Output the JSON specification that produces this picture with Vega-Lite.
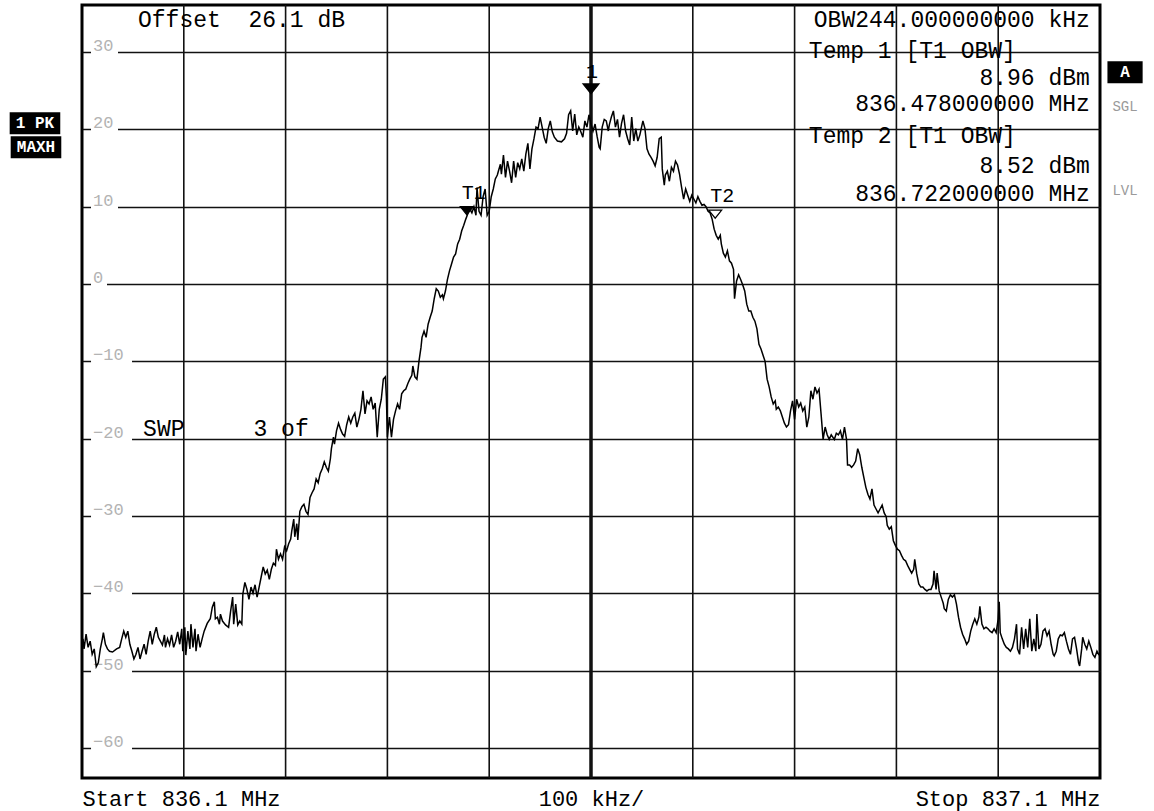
{
  "$schema": "https://vega.github.io/schema/vega-lite/v6.json",
  "width": 1018,
  "height": 773,
  "autosize": {"type": "none"},
  "padding": {"left": 82, "right": 54, "top": 5, "bottom": 33},
  "background": "white",
  "config": {
    "font": "Liberation Mono",
    "view": {"stroke": "black", "strokeWidth": 3}
  },
  "datasets": {
    "trace": [
      {"f":836.101,"v":-45.9},{"f":836.102,"v":-47.2},{"f":836.104,"v":-45.3},{"f":836.106,"v":-47.0},{"f":836.108,"v":-46.2},{"f":836.110,"v":-47.9},{"f":836.112,"v":-47.2},{"f":836.114,"v":-49.5},{"f":836.116,"v":-49.0},{"f":836.118,"v":-47.2},
      {"f":836.120,"v":-45.9},{"f":836.121,"v":-45.1},{"f":836.123,"v":-46.6},{"f":836.125,"v":-47.2},{"f":836.127,"v":-47.5},{"f":836.130,"v":-47.6},{"f":836.134,"v":-47.2},{"f":836.137,"v":-47.0},{"f":836.139,"v":-45.9},{"f":836.141,"v":-44.9},
      {"f":836.143,"v":-45.7},{"f":836.145,"v":-44.9},{"f":836.147,"v":-46.6},{"f":836.149,"v":-47.5},{"f":836.151,"v":-48.5},{"f":836.153,"v":-47.9},{"f":836.155,"v":-47.0},{"f":836.157,"v":-48.5},{"f":836.159,"v":-47.5},{"f":836.161,"v":-46.6},
      {"f":836.163,"v":-47.9},{"f":836.165,"v":-46.2},{"f":836.167,"v":-44.9},{"f":836.169,"v":-46.6},{"f":836.171,"v":-45.3},{"f":836.173,"v":-44.4},{"f":836.175,"v":-45.7},{"f":836.177,"v":-46.2},{"f":836.179,"v":-46.7},{"f":836.181,"v":-45.4},
      {"f":836.182,"v":-47.0},{"f":836.184,"v":-45.9},{"f":836.186,"v":-46.7},{"f":836.188,"v":-45.4},{"f":836.190,"v":-47.0},{"f":836.192,"v":-46.2},{"f":836.194,"v":-45.0},{"f":836.196,"v":-46.6},{"f":836.198,"v":-44.6},{"f":836.199,"v":-47.5},
      {"f":836.201,"v":-44.4},{"f":836.202,"v":-48.0},{"f":836.204,"v":-44.9},{"f":836.206,"v":-47.2},{"f":836.207,"v":-44.0},{"f":836.209,"v":-47.0},{"f":836.211,"v":-44.6},{"f":836.212,"v":-47.5},{"f":836.214,"v":-45.3},{"f":836.216,"v":-47.0},
      {"f":836.218,"v":-45.9},{"f":836.220,"v":-44.9},{"f":836.223,"v":-43.9},{"f":836.226,"v":-43.3},{"f":836.228,"v":-41.8},{"f":836.230,"v":-41.1},{"f":836.231,"v":-43.3},{"f":836.233,"v":-43.1},{"f":836.235,"v":-44.0},{"f":836.236,"v":-42.7},
      {"f":836.238,"v":-43.6},{"f":836.241,"v":-44.1},{"f":836.244,"v":-44.4},{"f":836.246,"v":-42.3},{"f":836.248,"v":-40.5},{"f":836.249,"v":-44.0},{"f":836.251,"v":-41.4},{"f":836.253,"v":-44.1},{"f":836.255,"v":-43.6},{"f":836.257,"v":-44.0},
      {"f":836.258,"v":-40.1},{"f":836.260,"v":-38.6},{"f":836.262,"v":-39.5},{"f":836.264,"v":-40.8},{"f":836.266,"v":-39.2},{"f":836.268,"v":-40.0},{"f":836.270,"v":-38.9},{"f":836.272,"v":-40.5},{"f":836.274,"v":-39.2},{"f":836.276,"v":-37.9},
      {"f":836.278,"v":-36.6},{"f":836.280,"v":-37.5},{"f":836.282,"v":-37.0},{"f":836.284,"v":-38.2},{"f":836.286,"v":-36.9},{"f":836.288,"v":-36.1},{"f":836.290,"v":-36.4},{"f":836.291,"v":-34.3},{"f":836.293,"v":-35.6},{"f":836.295,"v":-34.9},
      {"f":836.297,"v":-35.6},{"f":836.299,"v":-34.0},{"f":836.301,"v":-34.5},{"f":836.303,"v":-33.6},{"f":836.305,"v":-33.0},{"f":836.306,"v":-32.0},{"f":836.308,"v":-30.4},{"f":836.309,"v":-32.7},{"f":836.311,"v":-31.0},{"f":836.312,"v":-33.1},
      {"f":836.314,"v":-29.4},{"f":836.316,"v":-28.8},{"f":836.318,"v":-28.5},{"f":836.320,"v":-29.4},{"f":836.322,"v":-29.8},{"f":836.324,"v":-27.6},{"f":836.326,"v":-27.0},{"f":836.328,"v":-26.5},{"f":836.330,"v":-25.2},{"f":836.332,"v":-25.7},
      {"f":836.334,"v":-24.5},{"f":836.336,"v":-23.9},{"f":836.338,"v":-23.0},{"f":836.340,"v":-23.7},{"f":836.342,"v":-24.2},{"f":836.344,"v":-22.6},{"f":836.345,"v":-21.3},{"f":836.347,"v":-19.8},{"f":836.348,"v":-20.7},{"f":836.350,"v":-19.0},
      {"f":836.352,"v":-18.0},{"f":836.354,"v":-18.8},{"f":836.356,"v":-19.4},{"f":836.358,"v":-19.7},{"f":836.360,"v":-18.2},{"f":836.362,"v":-17.2},{"f":836.364,"v":-18.0},{"f":836.366,"v":-17.2},{"f":836.368,"v":-16.7},{"f":836.370,"v":-18.5},
      {"f":836.372,"v":-17.5},{"f":836.374,"v":-16.2},{"f":836.376,"v":-13.8},{"f":836.378,"v":-16.8},{"f":836.380,"v":-15.1},{"f":836.382,"v":-15.5},{"f":836.384,"v":-14.6},{"f":836.386,"v":-16.2},{"f":836.388,"v":-15.4},{"f":836.390,"v":-19.8},
      {"f":836.392,"v":-16.2},{"f":836.394,"v":-14.9},{"f":836.396,"v":-12.3},{"f":836.398,"v":-12.0},{"f":836.399,"v":-14.6},{"f":836.400,"v":-19.8},{"f":836.402,"v":-17.2},{"f":836.404,"v":-19.8},{"f":836.406,"v":-17.5},{"f":836.408,"v":-16.4},
      {"f":836.410,"v":-15.5},{"f":836.412,"v":-16.2},{"f":836.414,"v":-14.2},{"f":836.416,"v":-13.8},{"f":836.418,"v":-13.6},{"f":836.420,"v":-12.9},{"f":836.422,"v":-12.3},{"f":836.424,"v":-11.8},{"f":836.425,"v":-10.6},{"f":836.427,"v":-12.0},
      {"f":836.429,"v":-12.3},{"f":836.431,"v":-10.0},{"f":836.433,"v":-8.2},{"f":836.434,"v":-6.9},{"f":836.436,"v":-6.1},{"f":836.438,"v":-6.9},{"f":836.440,"v":-5.2},{"f":836.442,"v":-4.3},{"f":836.444,"v":-3.5},{"f":836.446,"v":-1.9},
      {"f":836.448,"v":-0.6},{"f":836.450,"v":-0.9},{"f":836.452,"v":-1.7},{"f":836.454,"v":-1.4},{"f":836.455,"v":-1.9},{"f":836.457,"v":-0.9},{"f":836.459,"v":0.6},{"f":836.461,"v":1.7},{"f":836.463,"v":2.6},{"f":836.465,"v":3.5},
      {"f":836.467,"v":3.9},{"f":836.469,"v":5.2},{"f":836.471,"v":5.8},{"f":836.473,"v":6.9},{"f":836.475,"v":7.6},{"f":836.477,"v":8.4},{"f":836.479,"v":9.1},{"f":836.481,"v":9.7},{"f":836.483,"v":9.2},{"f":836.485,"v":10.0},
      {"f":836.487,"v":8.9},{"f":836.488,"v":12.5},{"f":836.490,"v":9.4},{"f":836.492,"v":8.9},{"f":836.494,"v":11.3},{"f":836.496,"v":12.3},{"f":836.498,"v":8.9},{"f":836.500,"v":9.4},{"f":836.502,"v":11.3},{"f":836.504,"v":12.3},
      {"f":836.506,"v":13.6},{"f":836.508,"v":14.1},{"f":836.509,"v":14.6},{"f":836.511,"v":15.5},{"f":836.512,"v":14.2},{"f":836.514,"v":16.7},{"f":836.516,"v":13.8},{"f":836.518,"v":15.9},{"f":836.520,"v":14.6},{"f":836.522,"v":13.1},
      {"f":836.524,"v":15.9},{"f":836.526,"v":13.8},{"f":836.528,"v":15.7},{"f":836.530,"v":14.9},{"f":836.532,"v":16.2},{"f":836.534,"v":14.6},{"f":836.536,"v":16.8},{"f":836.538,"v":18.2},{"f":836.540,"v":14.9},{"f":836.542,"v":17.5},
      {"f":836.544,"v":18.8},{"f":836.546,"v":20.3},{"f":836.548,"v":20.1},{"f":836.550,"v":21.6},{"f":836.552,"v":20.3},{"f":836.554,"v":19.0},{"f":836.556,"v":18.2},{"f":836.558,"v":20.1},{"f":836.560,"v":21.1},{"f":836.562,"v":19.7},
      {"f":836.564,"v":19.0},{"f":836.567,"v":18.5},{"f":836.571,"v":18.4},{"f":836.574,"v":18.8},{"f":836.576,"v":19.5},{"f":836.578,"v":21.9},{"f":836.580,"v":22.4},{"f":836.582,"v":19.8},{"f":836.584,"v":22.0},{"f":836.586,"v":19.3},
      {"f":836.588,"v":20.3},{"f":836.590,"v":19.7},{"f":836.592,"v":19.0},{"f":836.594,"v":21.1},{"f":836.596,"v":20.3},{"f":836.598,"v":21.9},{"f":836.600,"v":20.7},{"f":836.602,"v":19.8},{"f":836.604,"v":20.7},{"f":836.606,"v":19.1},
      {"f":836.608,"v":17.7},{"f":836.609,"v":17.5},{"f":836.611,"v":20.3},{"f":836.613,"v":21.3},{"f":836.615,"v":21.1},{"f":836.617,"v":19.8},{"f":836.618,"v":20.6},{"f":836.620,"v":21.6},{"f":836.622,"v":22.4},{"f":836.624,"v":20.3},
      {"f":836.626,"v":21.3},{"f":836.628,"v":19.0},{"f":836.630,"v":20.8},{"f":836.632,"v":21.9},{"f":836.634,"v":19.8},{"f":836.636,"v":18.8},{"f":836.638,"v":18.0},{"f":836.640,"v":21.6},{"f":836.642,"v":18.5},{"f":836.644,"v":20.1},
      {"f":836.646,"v":18.5},{"f":836.648,"v":19.3},{"f":836.651,"v":21.1},{"f":836.653,"v":20.1},{"f":836.655,"v":17.5},{"f":836.657,"v":16.8},{"f":836.659,"v":16.4},{"f":836.661,"v":15.9},{"f":836.663,"v":15.3},{"f":836.665,"v":16.4},
      {"f":836.667,"v":18.8},{"f":836.669,"v":19.0},{"f":836.670,"v":14.9},{"f":836.672,"v":12.8},{"f":836.673,"v":14.1},{"f":836.675,"v":14.6},{"f":836.677,"v":13.3},{"f":836.679,"v":15.1},{"f":836.681,"v":14.6},{"f":836.683,"v":15.9},
      {"f":836.685,"v":15.4},{"f":836.687,"v":14.2},{"f":836.689,"v":12.5},{"f":836.691,"v":11.0},{"f":836.693,"v":12.3},{"f":836.695,"v":11.5},{"f":836.697,"v":10.7},{"f":836.699,"v":11.5},{"f":836.701,"v":11.0},{"f":836.703,"v":10.5},
      {"f":836.705,"v":11.3},{"f":836.707,"v":10.7},{"f":836.709,"v":10.2},{"f":836.711,"v":10.3},{"f":836.713,"v":10.0},{"f":836.715,"v":9.4},{"f":836.717,"v":9.2},{"f":836.719,"v":8.4},{"f":836.721,"v":7.1},{"f":836.723,"v":6.3},
      {"f":836.725,"v":5.8},{"f":836.727,"v":6.3},{"f":836.728,"v":5.2},{"f":836.730,"v":4.0},{"f":836.732,"v":3.5},{"f":836.734,"v":4.3},{"f":836.736,"v":3.0},{"f":836.738,"v":2.7},{"f":836.740,"v":1.9},{"f":836.741,"v":-1.9},
      {"f":836.743,"v":0.4},{"f":836.745,"v":1.2},{"f":836.747,"v":0.6},{"f":836.749,"v":-0.1},{"f":836.751,"v":-0.9},{"f":836.753,"v":-2.6},{"f":836.755,"v":-3.5},{"f":836.757,"v":-3.5},{"f":836.759,"v":-4.3},{"f":836.761,"v":-4.8},
      {"f":836.763,"v":-5.8},{"f":836.765,"v":-7.8},{"f":836.767,"v":-8.4},{"f":836.769,"v":-9.2},{"f":836.771,"v":-10.0},{"f":836.773,"v":-12.3},{"f":836.775,"v":-13.3},{"f":836.777,"v":-14.6},{"f":836.779,"v":-15.5},{"f":836.781,"v":-15.1},
      {"f":836.782,"v":-16.2},{"f":836.784,"v":-15.9},{"f":836.786,"v":-16.4},{"f":836.788,"v":-17.2},{"f":836.790,"v":-18.0},{"f":836.792,"v":-18.5},{"f":836.794,"v":-18.2},{"f":836.796,"v":-16.4},{"f":836.798,"v":-15.1},{"f":836.800,"v":-17.5},
      {"f":836.802,"v":-14.9},{"f":836.804,"v":-15.9},{"f":836.806,"v":-15.4},{"f":836.808,"v":-16.4},{"f":836.810,"v":-15.9},{"f":836.812,"v":-18.5},{"f":836.814,"v":-17.2},{"f":836.816,"v":-13.8},{"f":836.818,"v":-14.9},{"f":836.820,"v":-13.3},
      {"f":836.822,"v":-14.1},{"f":836.824,"v":-13.6},{"f":836.826,"v":-16.8},{"f":836.828,"v":-20.1},{"f":836.830,"v":-18.5},{"f":836.832,"v":-19.5},{"f":836.834,"v":-20.1},{"f":836.836,"v":-19.5},{"f":836.837,"v":-19.7},{"f":836.839,"v":-20.1},
      {"f":836.841,"v":-19.3},{"f":836.843,"v":-19.5},{"f":836.845,"v":-19.0},{"f":836.847,"v":-20.1},{"f":836.849,"v":-18.5},{"f":836.851,"v":-20.1},{"f":836.852,"v":-23.4},{"f":836.854,"v":-23.4},{"f":836.856,"v":-23.7},{"f":836.858,"v":-23.4},
      {"f":836.860,"v":-22.9},{"f":836.862,"v":-21.3},{"f":836.864,"v":-22.1},{"f":836.866,"v":-23.7},{"f":836.868,"v":-25.0},{"f":836.870,"v":-26.3},{"f":836.872,"v":-27.2},{"f":836.874,"v":-27.8},{"f":836.876,"v":-26.5},{"f":836.878,"v":-28.6},
      {"f":836.880,"v":-29.1},{"f":836.882,"v":-29.6},{"f":836.884,"v":-29.1},{"f":836.886,"v":-28.6},{"f":836.888,"v":-29.6},{"f":836.890,"v":-30.1},{"f":836.891,"v":-31.2},{"f":836.893,"v":-31.7},{"f":836.895,"v":-31.4},{"f":836.897,"v":-33.2},
      {"f":836.899,"v":-33.8},{"f":836.901,"v":-34.3},{"f":836.903,"v":-34.5},{"f":836.905,"v":-35.1},{"f":836.907,"v":-35.6},{"f":836.909,"v":-35.8},{"f":836.911,"v":-36.4},{"f":836.913,"v":-36.9},{"f":836.915,"v":-37.4},{"f":836.917,"v":-36.9},
      {"f":836.918,"v":-35.6},{"f":836.920,"v":-37.5},{"f":836.922,"v":-38.8},{"f":836.924,"v":-39.2},{"f":836.926,"v":-39.2},{"f":836.928,"v":-39.5},{"f":836.930,"v":-39.7},{"f":836.932,"v":-39.5},{"f":836.934,"v":-39.5},{"f":836.936,"v":-38.8},
      {"f":836.937,"v":-37.1},{"f":836.939,"v":-39.5},{"f":836.940,"v":-37.4},{"f":836.942,"v":-39.7},{"f":836.944,"v":-40.5},{"f":836.946,"v":-41.3},{"f":836.947,"v":-42.0},{"f":836.949,"v":-42.3},{"f":836.951,"v":-40.8},{"f":836.953,"v":-40.2},
      {"f":836.955,"v":-40.5},{"f":836.957,"v":-40.2},{"f":836.959,"v":-41.4},{"f":836.961,"v":-43.1},{"f":836.963,"v":-44.4},{"f":836.965,"v":-45.3},{"f":836.967,"v":-45.9},{"f":836.969,"v":-46.6},{"f":836.971,"v":-46.2},{"f":836.973,"v":-44.9},
      {"f":836.975,"v":-44.0},{"f":836.977,"v":-43.3},{"f":836.979,"v":-44.0},{"f":836.981,"v":-43.1},{"f":836.982,"v":-41.7},{"f":836.984,"v":-44.0},{"f":836.986,"v":-44.6},{"f":836.988,"v":-44.4},{"f":836.990,"v":-44.6},{"f":836.992,"v":-44.9},
      {"f":836.994,"v":-45.1},{"f":836.996,"v":-44.6},{"f":836.998,"v":-45.1},{"f":837.000,"v":-43.3},{"f":837.001,"v":-41.1},{"f":837.002,"v":-45.1},{"f":837.004,"v":-45.9},{"f":837.006,"v":-46.6},{"f":837.008,"v":-47.0},{"f":837.010,"v":-47.2},
      {"f":837.012,"v":-47.5},{"f":837.014,"v":-47.0},{"f":837.016,"v":-45.9},{"f":837.018,"v":-44.0},{"f":837.019,"v":-47.2},{"f":837.021,"v":-47.9},{"f":837.023,"v":-44.4},{"f":837.025,"v":-47.2},{"f":837.027,"v":-44.6},{"f":837.029,"v":-47.0},
      {"f":837.031,"v":-43.3},{"f":837.033,"v":-47.5},{"f":837.035,"v":-45.9},{"f":837.037,"v":-47.5},{"f":837.038,"v":-42.7},{"f":837.040,"v":-47.2},{"f":837.042,"v":-46.6},{"f":837.044,"v":-44.9},{"f":837.046,"v":-44.6},{"f":837.048,"v":-45.5},
      {"f":837.050,"v":-44.9},{"f":837.052,"v":-46.6},{"f":837.054,"v":-47.9},{"f":837.055,"v":-48.1},{"f":837.057,"v":-47.5},{"f":837.059,"v":-45.9},{"f":837.061,"v":-45.4},{"f":837.063,"v":-45.5},{"f":837.065,"v":-45.1},{"f":837.067,"v":-46.2},
      {"f":837.069,"v":-47.2},{"f":837.071,"v":-47.9},{"f":837.073,"v":-45.9},{"f":837.075,"v":-45.7},{"f":837.077,"v":-47.2},{"f":837.079,"v":-49.0},{"f":837.080,"v":-49.4},{"f":837.082,"v":-47.2},{"f":837.083,"v":-45.7},{"f":837.085,"v":-46.6},
      {"f":837.087,"v":-47.2},{"f":837.089,"v":-46.2},{"f":837.091,"v":-47.0},{"f":837.093,"v":-47.9},{"f":837.095,"v":-48.3},{"f":837.097,"v":-47.5},{"f":837.099,"v":-48.0}
    ],
    "vgrid": [
      {"f":836.2},{"f":836.3},{"f":836.4},{"f":836.5},{"f":836.6},{"f":836.7},{"f":836.8},{"f":836.9},{"f":837.0}
    ],
    "ylabels": [
      {"v":30},{"v":20},{"v":10},{"v":0},{"v":-10},{"v":-20},{"v":-30},{"v":-40},{"v":-50},{"v":-60}
    ],
    "markers": [
      {"f":836.6,"v":24.6,"name":"1"},
      {"f":836.478,"v":8.96,"name":"T1"},
      {"f":836.722,"v":8.52,"name":"T2"}
    ],
    "notes": [
      {"f":836.155,"v":34.2,"t":"Offset\u00a0\u00a026.1 dB","g":"L"},
      {"f":836.814,"v":30.1,"t":"Temp 1 [T1 OBW]","g":"L"},
      {"f":836.814,"v":19.2,"t":"Temp 2 [T1 OBW]","g":"L"},
      {"f":836.160,"v":-18.8,"t":"SWP\u00a0\u00a0\u00a0\u00a0\u00a03 of","g":"L"},
      {"f":837.090,"v":34.2,"t":"OBW244.000000000 kHz","g":"R"},
      {"f":837.090,"v":26.6,"t":"8.96 dBm","g":"R"},
      {"f":837.090,"v":23.3,"t":"836.478000000 MHz","g":"R"},
      {"f":837.090,"v":15.3,"t":"8.52 dBm","g":"R"},
      {"f":837.090,"v":11.6,"t":"836.722000000 MHz","g":"R"},
      {"f":837.1246,"v":22.9,"t":"SGL","g":"G"},
      {"f":837.1246,"v":12.0,"t":"LVL","g":"G"},
      {"f":836.0538,"v":20.8,"t":"1 PK","g":"B"},
      {"f":836.0548,"v":17.7,"t":"MAXH","g":"B"},
      {"f":837.1246,"v":27.4,"t":"A","g":"B"}
    ]
  },
  "layer": [
    {
      "data": {"name": "vgrid"},
      "mark": {"type": "rule", "color": "#111111"},
      "encoding": {
        "x": {
          "field": "f",
          "type": "quantitative",
          "scale": {"domain": [836.1, 837.1], "nice": false, "zero": false},
          "axis": {
            "values": [836.1, 836.6, 837.1],
            "labelExpr": "datum.value < 836.3 ? 'Start 836.1 MHz' : (datum.value > 836.9 ? 'Stop 837.1 MHz' : '100 kHz/')",
            "labelFlush": true,
            "labelOverlap": false,
            "labelLimit": 400,
            "labelFont": "Liberation Mono",
            "labelFontSize": 22,
            "labelColor": "black",
            "labelPadding": 10,
            "domain": false,
            "ticks": false,
            "grid": false,
            "title": null
          }
        },
        "strokeWidth": {"condition": {"test": "datum.f == 836.6", "value": 3.5}, "value": 1.6}
      }
    },
    {
      "data": {"name": "ylabels"},
      "transform": [{"filter": "datum.v > 0"}],
      "mark": {"type": "tick", "orient": "horizontal", "color": "white", "opacity": 1, "size": 27, "thickness": 5},
      "encoding": {
        "x": {"datum": 836.1221, "type": "quantitative"},
        "y": {
          "field": "v",
          "type": "quantitative",
          "scale": {"domain": [-63.9, 36.1], "nice": false, "zero": false},
          "axis": {
            "values": [-60, -50, -40, -30, -20, -10, 0, 10, 20, 30],
            "grid": true,
            "gridColor": "#111111",
            "gridWidth": 1.6,
            "labels": false,
            "ticks": false,
            "domain": false,
            "title": null
          }
        }
      }
    },
    {
      "data": {"name": "ylabels"},
      "transform": [{"filter": "datum.v == 0"}],
      "mark": {"type": "tick", "orient": "horizontal", "color": "white", "opacity": 1, "size": 16, "thickness": 5},
      "encoding": {
        "x": {"datum": 836.1167, "type": "quantitative"},
        "y": {"field": "v", "type": "quantitative"}
      }
    },
    {
      "data": {"name": "ylabels"},
      "transform": [{"filter": "datum.v < 0"}],
      "mark": {"type": "tick", "orient": "horizontal", "color": "white", "opacity": 1, "size": 41, "thickness": 5},
      "encoding": {
        "x": {"datum": 836.129, "type": "quantitative"},
        "y": {"field": "v", "type": "quantitative"}
      }
    },
    {
      "data": {"name": "ylabels"},
      "mark": {"type": "text", "align": "left", "baseline": "alphabetic", "dx": 11, "dy": -1, "font": "Liberation Mono", "fontSize": 17, "color": "#b3b3b3"},
      "encoding": {
        "x": {"datum": 836.1, "type": "quantitative"},
        "y": {"field": "v", "type": "quantitative"},
        "text": {"field": "v", "type": "quantitative", "format": "d"}
      }
    },
    {
      "data": {"name": "notes"},
      "transform": [{"filter": "datum.g == 'L'"}],
      "mark": {"type": "text", "align": "left", "baseline": "middle", "font": "Liberation Mono", "fontSize": 23, "color": "black"},
      "encoding": {
        "x": {"field": "f", "type": "quantitative"},
        "y": {"field": "v", "type": "quantitative"},
        "text": {"field": "t"}
      }
    },
    {
      "data": {"name": "notes"},
      "transform": [{"filter": "datum.g == 'R'"}],
      "mark": {"type": "text", "align": "right", "baseline": "middle", "font": "Liberation Mono", "fontSize": 23, "color": "black"},
      "encoding": {
        "x": {"field": "f", "type": "quantitative"},
        "y": {"field": "v", "type": "quantitative"},
        "text": {"field": "t"}
      }
    },
    {
      "data": {"name": "notes"},
      "transform": [{"filter": "datum.g == 'G'"}],
      "mark": {"type": "text", "align": "center", "baseline": "middle", "font": "Liberation Mono", "fontSize": 14, "color": "#9a9a9a"},
      "encoding": {
        "x": {"field": "f", "type": "quantitative"},
        "y": {"field": "v", "type": "quantitative"},
        "text": {"field": "t"}
      }
    },
    {
      "data": {"name": "notes"},
      "transform": [{"filter": "datum.g == 'B'"}],
      "mark": {"type": "point", "filled": true, "opacity": 1, "color": "black", "size": 484},
      "encoding": {
        "x": {"field": "f", "type": "quantitative"},
        "y": {"field": "v", "type": "quantitative"},
        "shape": {"condition": {"test": "datum.t == 'A'", "value": "M-1.6,-1L1.6,-1L1.6,1L-1.6,1Z"}, "value": "M-2.3,-1L2.3,-1L2.3,1L-2.3,1Z"}
      }
    },
    {
      "data": {"name": "notes"},
      "transform": [{"filter": "datum.g == 'B'"}],
      "mark": {"type": "text", "align": "center", "baseline": "middle", "font": "Liberation Mono", "fontSize": 16, "fontWeight": "bold", "color": "white"},
      "encoding": {
        "x": {"field": "f", "type": "quantitative"},
        "y": {"field": "v", "type": "quantitative"},
        "text": {"field": "t"}
      }
    },
    {
      "data": {"name": "trace"},
      "mark": {"type": "line", "color": "black", "strokeWidth": 1.5, "interpolate": "linear"},
      "encoding": {
        "x": {"field": "f", "type": "quantitative"},
        "y": {"field": "v", "type": "quantitative"}
      }
    },
    {
      "data": {"name": "markers"},
      "mark": {"type": "point", "shape": "M-1,-1.25L1,-1.25L0,0Z", "filled": true, "opacity": 1, "stroke": "black", "strokeWidth": 1.2},
      "encoding": {
        "x": {"field": "f", "type": "quantitative"},
        "y": {"field": "v", "type": "quantitative"},
        "fill": {"condition": {"test": "datum.name == 'T2'", "value": "white"}, "value": "black"},
        "size": {"condition": {"test": "datum.name == '1'", "value": 256}, "value": 169}
      }
    },
    {
      "data": {"name": "markers"},
      "mark": {"type": "text", "align": "left", "baseline": "middle", "dx": -5, "dy": -22, "font": "Liberation Mono", "fontSize": 20, "color": "black"},
      "encoding": {
        "x": {"field": "f", "type": "quantitative"},
        "y": {"field": "v", "type": "quantitative"},
        "text": {"field": "name"}
      }
    }
  ]
}
